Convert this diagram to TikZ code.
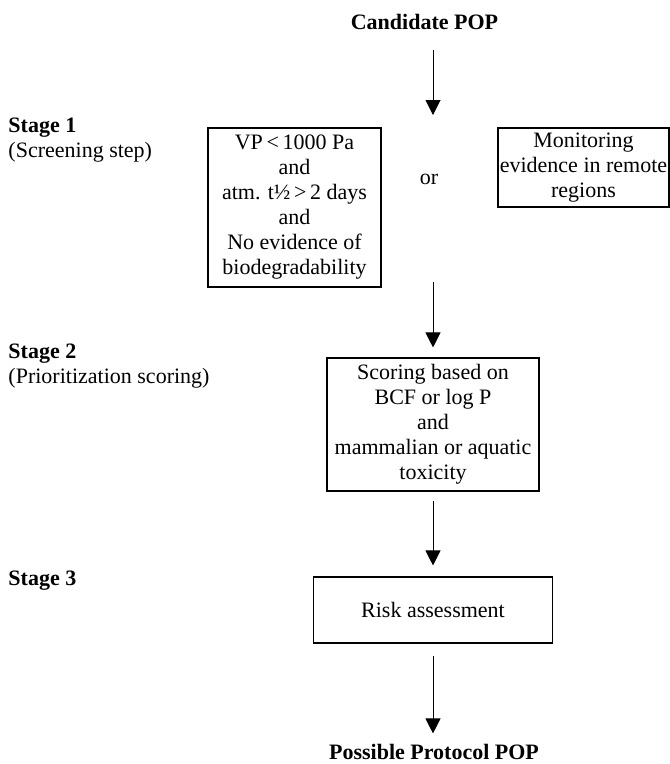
\documentclass[tikz,border=0pt]{standalone}
\usepackage{fontspec}
\setmainfont{Liberation Serif}
\usetikzlibrary{arrows.meta}
\begin{document}
\begin{tikzpicture}[x=1pt, y=-1pt, line width=1pt,
        font=\fontsize{22}{25}\selectfont,
        box/.style={draw, line width=1.1pt, align=center, inner sep=1pt},
        lbl/.style={anchor=base west, inner sep=0pt},
        flow/.style={-{Triangle[width=15pt,length=15pt]}}]
    \useasboundingbox (0,0) rectangle (670,764);
    % titles
    \node[font=\fontsize{22}{25}\selectfont\bfseries] (cand) at (424.5,22) {Candidate POP};
    \node[font=\fontsize{22}{25}\selectfont\bfseries] (poss) at (434,752) {Possible Protocol POP};
    % stages
    \node[lbl, font=\fontsize{22}{25}\selectfont\bfseries] (st1) at (8,132) {Stage 1};
    \node[lbl] (st1b) at (8,157) {(Screening step)};
    \node[lbl, font=\fontsize{22}{25}\selectfont\bfseries] (st2) at (8,358) {Stage 2};
    \node[lbl] (st2b) at (8,383) {(Prioritization scoring)};
    \node[lbl, font=\fontsize{22}{25}\selectfont\bfseries] (st3) at (8,585) {Stage 3};
    % boxes
    \node[box, minimum width=173pt, minimum height=159pt] (crit) at (294.5,207.5)
        {VP\thinspace<\thinspace1000 Pa\\and\\atm. t½\thinspace>\thinspace2 days\\and\\No evidence of\\biodegradability};
    \node (or) at (429,179) {or};
    \node[box, minimum width=171pt, minimum height=79pt] (mon) at (583.5,167.5)
        {Monitoring\\evidence in remote\\regions};
    \node[box, minimum width=212pt, minimum height=133pt] (score) at (433,424.5)
        {Scoring based on\\BCF or log P\\and\\mammalian or aquatic\\toxicity};
    \node[box, minimum width=239pt, minimum height=66pt] (risk) at (433,610) {Risk assessment};
    % arrow ends
    \coordinate (in1) at (433,50);
    \coordinate (in2) at (433,115);
    \coordinate (out1) at (433,282);
    \draw[flow] (in1) -- (in2);
    \draw[flow, shorten >=10pt] (out1) -- (score.north);
    \draw[flow, shorten <=9pt, shorten >=11pt] (score.south) -- (risk.north);
    \draw[flow, shorten <=12pt, shorten >=7pt] (risk.south) -- (risk.south |- poss.north);
\end{tikzpicture}
\end{document}
